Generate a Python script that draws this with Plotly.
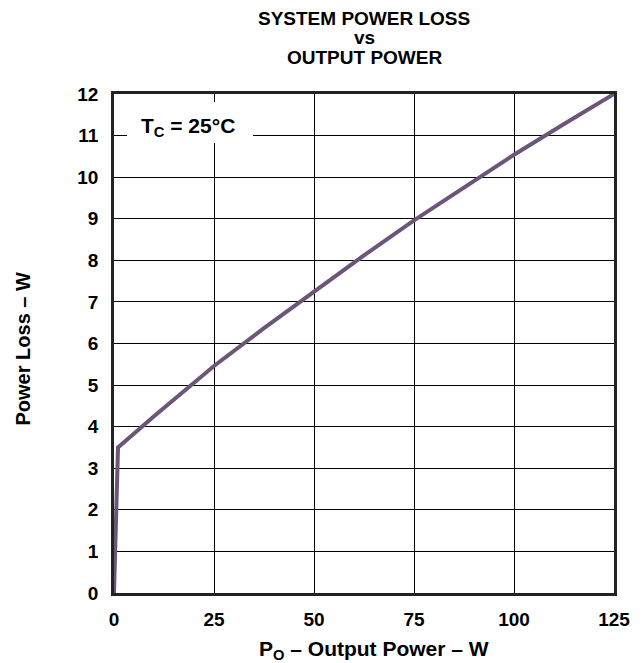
import plotly.graph_objects as go

output_power = [0, 1, 10, 25, 37.5, 50, 62.5, 75, 87.5, 100, 112.5, 125]
power_loss = [0, 3.5, 4.25, 5.46, 6.37, 7.25, 8.12, 8.96, 9.76, 10.54, 11.28, 12.0]

x_ticks = [0, 25, 50, 75, 100, 125]
y_ticks = list(range(0, 13))

title_lines = ["SYSTEM POWER LOSS", "vs", "OUTPUT POWER"]

FONT = "Liberation Sans, Arial, sans-serif"

# page body has an 8px margin; figure sized to fit the window
W, H = 634, 655
L, R, T, B = 106, 28, 86, 70
PH = H - T - B

fig = go.Figure()
fig.add_trace(go.Scatter(
    x=output_power, y=power_loss, mode="lines",
    line=dict(color="#6b5578", width=4),
    showlegend=False, hoverinfo="skip",
))

fig.update_layout(
    width=W, height=H,
    margin=dict(l=L, r=R, t=T, b=B, autoexpand=False),
    paper_bgcolor="white", plot_bgcolor="white",
    font=dict(family=FONT, color="black"),
    xaxis=dict(
        range=[0, 125], tickvals=x_ticks, ticktext=[f"<b>{v}</b>" for v in x_ticks],
        showgrid=True, gridcolor="black", gridwidth=1,
        showline=True, linecolor="#222", linewidth=2.5, mirror=True,
        ticks="", ticklabelstandoff=7, tickfont=dict(size=19),
        zeroline=False, automargin=False,
    ),
    yaxis=dict(
        range=[0, 12], tickvals=y_ticks, ticktext=[f"<b>{v}</b>" for v in y_ticks],
        showgrid=True, gridcolor="black", gridwidth=1,
        showline=True, linecolor="#222", linewidth=2.5, mirror=True,
        ticks="", ticklabelstandoff=9, tickfont=dict(size=19),
        zeroline=False, automargin=False,
    ),
)

# chart title, one annotation per line (tight line spacing)
for line, fig_y in zip(title_lines, [10, 30, 49]):
    fig.add_annotation(
        x=0.5, y=1 + (T - fig_y) / PH, xref="paper", yref="paper",
        xanchor="center", yanchor="middle", showarrow=False,
        text=f"<b>{line}</b>",
        font=dict(size=19, family=FONT, color="black"),
    )

# axis titles
fig.add_annotation(
    x=0.5, y=0, xref="paper", yref="paper", xanchor="center", yanchor="middle",
    xshift=10, yshift=-57, showarrow=False,
    text="<b>P<sub>O</sub> – Output Power – W</b>",
    font=dict(size=21, family=FONT, color="black"),
)
fig.add_annotation(
    x=0, y=0.5, xref="paper", yref="paper", xanchor="center", yanchor="middle",
    xshift=-92, yshift=-6, textangle=-90, showarrow=False,
    text="<b>Power Loss – W</b>",
    font=dict(size=20, family=FONT, color="black"),
)

# white box behind the condition label
fig.add_shape(type="rect", xref="x", yref="y",
              x0=3.25, x1=34.75, y0=10.82, y1=11.81,
              fillcolor="white", line=dict(width=0), layer="above")
fig.add_annotation(
    x=18.6, y=11.2, xref="x", yref="y",
    text="<b>T<sub>C</sub> = 25°C</b>", showarrow=False,
    font=dict(size=21, family=FONT, color="black"),
)

fig.write_html("out.html")
